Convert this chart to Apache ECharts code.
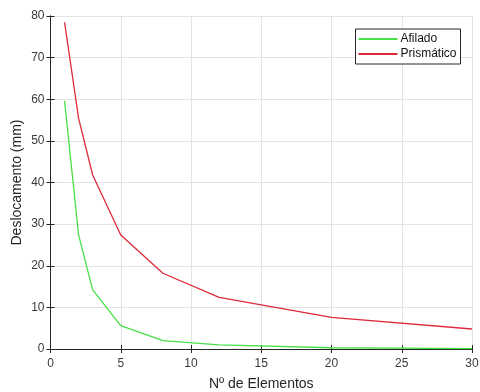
<!DOCTYPE html>
<html><head><meta charset="utf-8">
<script src="https://cdn.jsdelivr.net/npm/echarts@6/dist/echarts.min.js"></script>
<style>html,body{margin:0;padding:0;background:#fff}#c{width:480px;height:392px}</style>
</head><body><div id="c"></div>
<script>
const elements = [1, 2, 3, 5, 8, 12, 20, 30];
const afilado = [59.6, 27.4, 14.2, 5.6, 2.0, 1.0, 0.3, 0.1];
const prismatico = [78.5, 55.4, 41.8, 27.4, 18.2, 12.4, 7.6, 4.8];
const xTicks = [0, 5, 10, 15, 20, 25, 30];
const yTicks = [0, 10, 20, 30, 40, 50, 60, 70, 80];
const seriesNames = ['Afilado', 'Prismático'];
const xTitle = 'Nº de Elementos';
const yTitle = 'Deslocamento (mm)';

const font = 'Liberation Sans';
const axisCol = '#262626';
const labelCol = '#3a3a3a';
const chart = echarts.init(document.getElementById('c'), null, {renderer: 'canvas'});
const pairs = (xs, ys) => xs.map((x, i) => [x, ys[i]]);
const common = {
  axisLine: {show: true, lineStyle: {color: axisCol, width: 1}},
  axisTick: {show: true, inside: true, length: 4, lineStyle: {color: axisCol}},
};
chart.setOption({
  animation: false,
  textStyle: {fontFamily: font},
  grid: {left: 50.5, right: 8, top: 16, bottom: 43, containLabel: false, outerBoundsMode: 'none'},
  xAxis: [
    Object.assign({}, common, {type: 'value', position: 'bottom', min: xTicks[0], max: xTicks[xTicks.length - 1], interval: 5,
      name: xTitle, nameLocation: 'middle', nameGap: 28, nameMoveOverlap: false,
      nameTextStyle: {fontFamily: font, fontSize: 14, color: axisCol},
      axisLabel: {fontFamily: font, fontSize: 12, color: labelCol, margin: 9},
      splitLine: {show: true, lineStyle: {color: '#e3e3e3'}}}),
    Object.assign({}, common, {type: 'value', position: 'top', min: xTicks[0], max: xTicks[xTicks.length - 1], interval: 5,
      axisLabel: {show: false}, splitLine: {show: false}})
  ],
  yAxis: [
    Object.assign({}, common, {type: 'value', position: 'left', min: yTicks[0], max: yTicks[yTicks.length - 1], interval: 10,
      name: yTitle, nameLocation: 'middle', nameGap: 26, nameRotate: 90, nameMoveOverlap: false,
      nameTextStyle: {fontFamily: font, fontSize: 14, color: axisCol},
      axisLabel: {fontFamily: font, fontSize: 12, color: labelCol, margin: 6},
      splitLine: {show: true, lineStyle: {color: '#e3e3e3'}}}),
    Object.assign({}, common, {type: 'value', position: 'right', min: yTicks[0], max: yTicks[yTicks.length - 1], interval: 10,
      axisLabel: {show: false}, splitLine: {show: false}})
  ],
  legend: {
    show: true, left: 355.5, top: 29, orient: 'vertical',
    backgroundColor: '#fff', borderColor: '#262626', borderWidth: 1,
    padding: [4, 4, 4, 3], itemGap: 3, itemWidth: 39, itemHeight: 2,
    icon: 'rect',
    textStyle: {fontFamily: font, fontSize: 12, color: '#111', padding: [0, 0, 0, -2]},
    data: seriesNames
  },
  series: [
    {name: seriesNames[0], type: 'line', data: pairs(elements, afilado), showSymbol: false,
      lineStyle: {color: '#48e048', width: 1.3}, itemStyle: {color: '#48e048'}},
    {name: seriesNames[1], type: 'line', data: pairs(elements, prismatico), showSymbol: false,
      lineStyle: {color: '#dd2a3a', width: 1.3}, itemStyle: {color: '#dd2a3a'}}
  ]
});
</script></body></html>
